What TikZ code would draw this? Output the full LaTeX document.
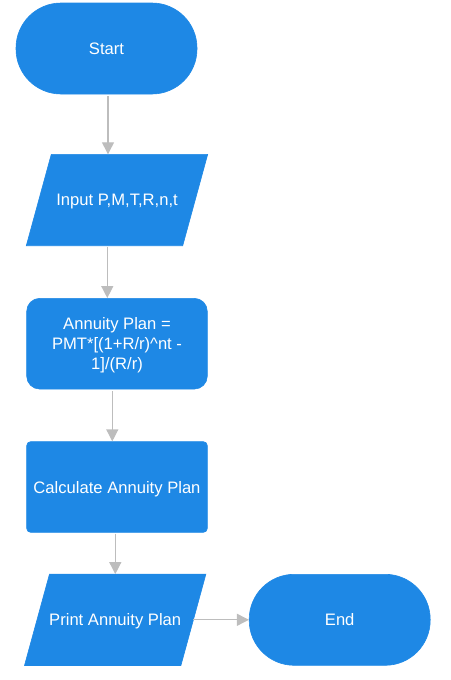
\documentclass[tikz,border=0pt]{standalone}
\usepackage{fontspec}
\setmainfont{Liberation Sans}
\usetikzlibrary{arrows.meta}
\definecolor{boxblue}{HTML}{1E88E5}
\definecolor{linegray}{HTML}{BDBDBD}
\pgfdeclarelayer{bg}
\pgfsetlayers{bg,main}
\tikzset{
  base/.style={fill=boxblue, draw=boxblue, line width=0.6pt, text=white, inner sep=0pt,
    font=\fontsize{16.6}{20}\selectfont, align=center, text depth=0pt},
  term/.style={base, rectangle, rounded corners=45pt, minimum width=181pt, minimum height=91pt},
  io/.style={rectangle, text=white, inner sep=0pt, font=\fontsize{16.6}{20}\selectfont,
    align=center, text depth=0pt, minimum width=156pt, minimum height=91pt},
  iofill/.style={fill=boxblue, draw=boxblue, line width=0.6pt},
  proc/.style={base, rectangle, minimum width=180.6pt, minimum height=90.7pt},
  arr/.style={draw=linegray, line width=1.3pt, -{Triangle[width=12pt,length=12pt]}, shorten <=2pt}
}
\begin{document}
\begin{tikzpicture}[x=1pt,y=-1pt]
\useasboundingbox (0,0) rectangle (450,680);
\node[term] (start) at (106.5,48.5) {Start};
\node[io] (inp) at (117,200) {Input P,M,T,R,n,t};
\node[proc, rounded corners=13pt] (ann) at (117,343.7) {Annuity Plan =\\PMT*[(1+R/r)\textasciicircum nt -\\1]/(R/r)};
\node[proc, rounded corners=4pt] (calc) at (117,487) {Calculate Annuity Plan};
\node[io] (prt) at (115.2,619.8) {Print Annuity Plan};
\node[term] (end) at (339.7,619.8) {End};
\begin{pgfonlayer}{bg}
\path[iofill] ([xshift=12.5pt]inp.north west) -- ([xshift=12.5pt]inp.north east)
  -- ([xshift=-12.5pt]inp.south east) -- ([xshift=-12.5pt]inp.south west) -- cycle;
\path[iofill] ([xshift=12.5pt]prt.north west) -- ([xshift=12.5pt]prt.north east)
  -- ([xshift=-12.5pt]prt.south east) -- ([xshift=-12.5pt]prt.south west) -- cycle;
\end{pgfonlayer}
\draw[arr] ([xshift=1.5pt]start.south) -- ([xshift=-9pt]inp.north);
\draw[arr, shorten <=1pt] ([xshift=-9.7pt]inp.south) -- ([xshift=-9.7pt]ann.north);
\draw[arr] ([xshift=-4.7pt]ann.south) -- ([xshift=-4.7pt]calc.north);
\draw[arr, shorten <=1pt] ([xshift=-1.7pt]calc.south) -- ([xshift=0.1pt]prt.north);
\draw[arr, shorten <=0pt] (prt.east) -- (end.west);
\end{tikzpicture}
\end{document}
